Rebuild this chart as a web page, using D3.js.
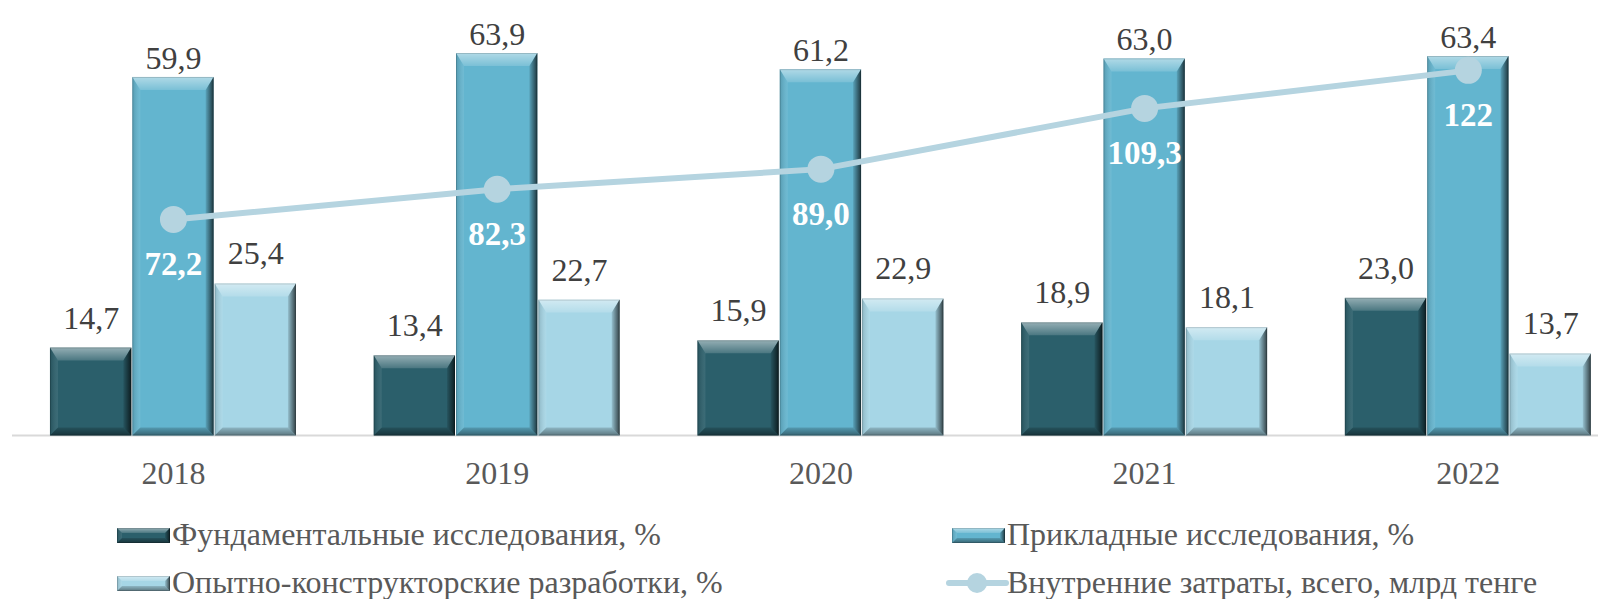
<!DOCTYPE html>
<html>
<head>
<meta charset="utf-8">
<script src="https://cdn.jsdelivr.net/npm/d3@7"></script>
<style>
body { margin: 0; background: #fff; }
svg { display: block; font-family: "Liberation Serif", "Times New Roman", serif; }
</style>
</head>
<body>
<div id="chart"></div>
<script>
// data
var years = ["2018", "2019", "2020", "2021", "2022"]
var fundamental = [14.7, 13.4, 15.9, 18.9, 23.0]
var applied = [59.9, 63.9, 61.2, 63.0, 63.4]
var experimental = [25.4, 22.7, 22.9, 18.1, 13.7]
var totalCosts = [72.2, 82.3, 89.0, 109.3, 122]

var seriesNames = ["Фундаментальные исследования, %", "Прикладные исследования, %", "Опытно-конструкторские разработки, %"]
var lineName = "Внутренние затраты, всего, млрд тенге"
var seriesColors = ["#2b5f6b", "#63b5cf", "#a6d6e6"]
var lineColor = "#b5d4e0"

var width = 1617, height = 599
var baseY = 435.5, topY = 16.5

var svg = d3.select("#chart").append("svg")
    .attr("width", width)
    .attr("height", height)

var defs = svg.append("defs")
// bevel gradients
function grad(id, x2, y2, stops) {
    var g = defs.append("linearGradient").attr("id", id)
        .attr("x1", 0).attr("y1", 0).attr("x2", x2).attr("y2", y2)
    stops.forEach(function(s) {
        g.append("stop").attr("offset", s[0]).attr("stop-color", s[1]).attr("stop-opacity", s[2])
    })
}
grad("gTop", 0, 1, [[0, "#fff", 0.5], [1, "#fff", 0.15]])
grad("gLeft", 1, 0, [[0, "#000", 0.15], [1, "#fff", 0.08]])
grad("gRight", 1, 0, [[0, "#000", 0.1], [1, "#000", 0.7]])
grad("gBottom", 0, 1, [[0, "#000", 0.15], [1, "#000", 0.45]])

var x0 = d3.scaleBand()
    .domain(years)
    .range([11.6, 1630.2])
    .padding(0)

var groupPad = 0.1185
var x1 = d3.scaleBand()
    .domain([0, 1, 2])
    .range([x0.bandwidth() * groupPad, x0.bandwidth() * (1 - groupPad)])
    .padding(0)

var y = d3.scaleLinear().domain([0, 70]).range([baseY, topY])
var y2 = d3.scaleLinear().domain([0, 140]).range([baseY, topY])

function comma(v) {
    if (v >= 100 && Number.isInteger(v)) return String(v)
    return d3.format(".1f")(v).replace(".", ",")
}

function bevelBar(g, bx, by, bw, bh, color, bt, bs) {
    bt = Math.min(bt, bh / 2)
    var bb = Math.min(bs, bh / 3)
    g.append("rect").attr("x", bx).attr("y", by).attr("width", bw).attr("height", bh).attr("fill", color)
    // top
    g.append("polygon")
        .attr("points", [[bx, by], [bx + bw, by], [bx + bw - bs, by + bt], [bx + bs, by + bt]].join(" "))
        .attr("fill", "url(#gTop)")
    // left
    g.append("polygon")
        .attr("points", [[bx, by], [bx + bs, by + bt], [bx + bs, by + bh - bb], [bx, by + bh]].join(" "))
        .attr("fill", "url(#gLeft)")
    // right
    g.append("polygon")
        .attr("points", [[bx + bw, by], [bx + bw, by + bh], [bx + bw - bs, by + bh - bb], [bx + bw - bs, by + bt]].join(" "))
        .attr("fill", "url(#gRight)")
    // bottom
    g.append("polygon")
        .attr("points", [[bx, by + bh], [bx + bs, by + bh - bb], [bx + bw - bs, by + bh - bb], [bx + bw, by + bh]].join(" "))
        .attr("fill", "url(#gBottom)")
    g.append("rect").attr("x", bx + 0.5).attr("y", by + 0.5).attr("width", bw - 1).attr("height", bh - 1)
        .attr("fill", "none").attr("stroke", "#000").attr("stroke-opacity", 0.15)
}

// axis line
svg.append("line")
    .attr("x1", 12).attr("x2", 1598)
    .attr("y1", baseY).attr("y2", baseY)
    .attr("stroke", "#d9d9d9").attr("stroke-width", 2)

var allSeries = [fundamental, applied, experimental]
var labelGap = [19, 8, 19]

var bars = svg.append("g").attr("class", "bars")
years.forEach(function(yr, i) {
    allSeries.forEach(function(s, k) {
        var bx = x0(yr) + x1(k)
        var bw = x1.bandwidth() - 1
        bevelBar(bars.append("g"), bx, y(s[i]), bw, baseY - y(s[i]), seriesColors[k], 13, 8)
    })
})

// bar value labels
allSeries.forEach(function(s, k) {
    svg.append("g").selectAll("text").data(s)
        .enter().append("text")
        .attr("x", function(d, i) { return x0(years[i]) + x1(k) + x1.bandwidth() / 2 })
        .attr("y", function(d) { return y(d) - labelGap[k] })
        .attr("text-anchor", "middle")
        .attr("fill", "#404040")
        .style("font-size", "32px")
        .text(function(d) { return comma(d) })
})

// x axis labels
svg.append("g").selectAll("text").data(years)
    .enter().append("text")
    .attr("x", function(d) { return x0(d) + x0.bandwidth() / 2 })
    .attr("y", 484)
    .attr("text-anchor", "middle")
    .attr("fill", "#595959")
    .style("font-size", "32px")
    .text(function(d) { return d })

// line
var line = d3.line()
    .x(function(d, i) { return x0(years[i]) + x0.bandwidth() / 2 })
    .y(function(d) { return y2(d) })

svg.append("path")
    .datum(totalCosts)
    .attr("d", line)
    .attr("fill", "none")
    .attr("stroke", lineColor)
    .attr("stroke-width", 6)

svg.append("g").selectAll("circle").data(totalCosts)
    .enter().append("circle")
    .attr("cx", function(d, i) { return x0(years[i]) + x0.bandwidth() / 2 })
    .attr("cy", function(d) { return y2(d) })
    .attr("r", 13.5)
    .attr("fill", lineColor)

svg.append("g").selectAll("text").data(totalCosts)
    .enter().append("text")
    .attr("x", function(d, i) { return x0(years[i]) + x0.bandwidth() / 2 })
    .attr("y", function(d) { return y2(d) + 56 })
    .attr("text-anchor", "middle")
    .attr("fill", "#fff")
    .style("font-size", "33px")
    .style("font-weight", "bold")
    .text(function(d) { return comma(d) })

// legend
var legendItems = [
    {name: seriesNames[0], type: "bar", color: seriesColors[0], x: 117, y: 535},
    {name: seriesNames[1], type: "bar", color: seriesColors[1], x: 952, y: 535},
    {name: seriesNames[2], type: "bar", color: seriesColors[2], x: 117, y: 583},
    {name: lineName, type: "line", color: lineColor, x: 952, y: 583}
]

var legend = svg.append("g").attr("class", "legend")
legendItems.forEach(function(d) {
    var g = legend.append("g")
    if (d.type == "bar") {
        bevelBar(g, d.x, d.y - 7, 53, 15, d.color, 5, 5)
    } else {
        g.append("line").attr("x1", d.x - 3).attr("x2", d.x + 54)
            .attr("y1", d.y).attr("y2", d.y)
            .attr("stroke", d.color).attr("stroke-width", 6).attr("stroke-linecap", "round")
        g.append("circle").attr("cx", d.x + 25).attr("cy", d.y).attr("r", 10).attr("fill", d.color)
    }
    g.append("text")
        .attr("x", d.x + 55)
        .attr("y", d.y + 10)
        .attr("fill", "#595959")
        .style("font-size", "32px")
        .text(d.name)
})
</script>
</body>
</html>
